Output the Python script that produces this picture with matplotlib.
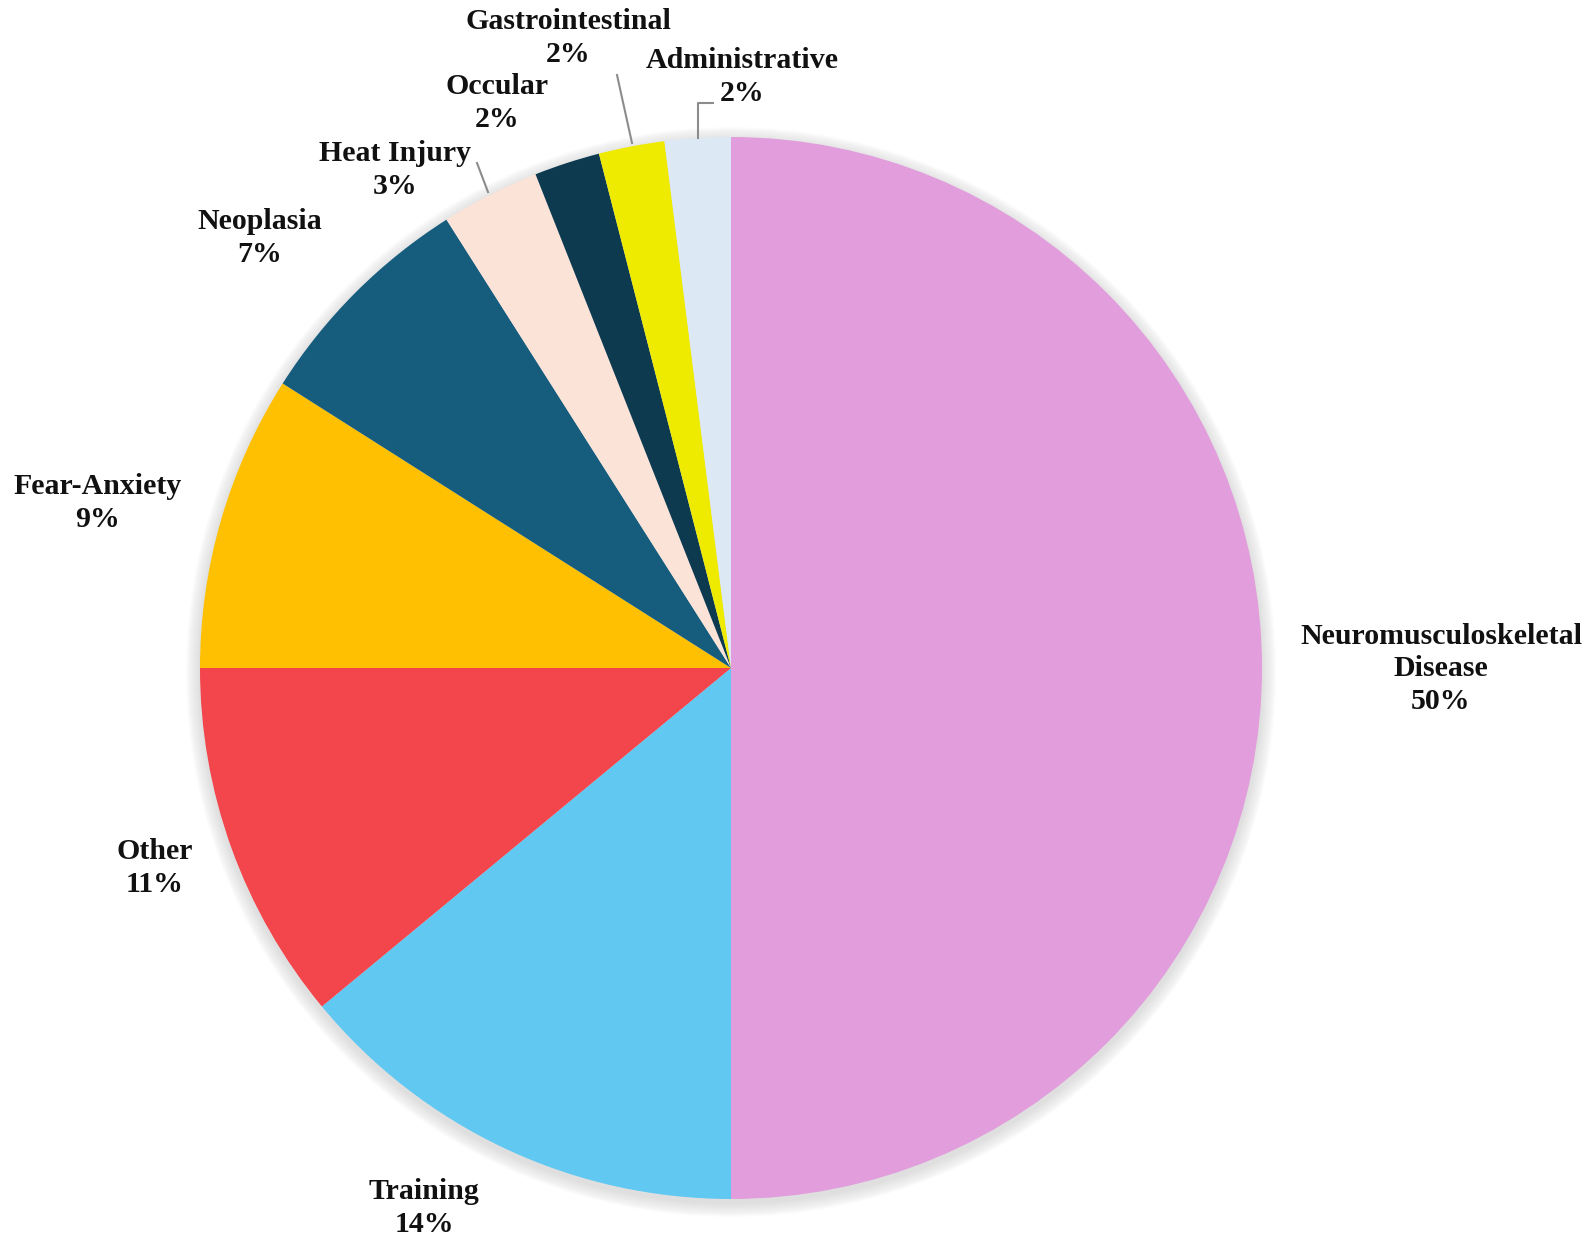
import matplotlib.pyplot as plt
from matplotlib.patches import Circle

# Datos
categorias = ['Neuromusculoskeletal\nDisease', 'Training', 'Other', 'Fear-Anxiety',
              'Neoplasia', 'Heat Injury', 'Occular', 'Gastrointestinal', 'Administrative']
porcentajes = [50, 14, 11, 9, 7, 3, 2, 2, 2]
colores = ['#E29DDD', '#61C8F2', '#F2454C', '#FEC000', '#165C7D',
           '#FBE3D8', '#0E3A50', '#EEEA00', '#DCE9F5']

# posiciones de las etiquetas (pixeles, origen arriba-izquierda)
pos_etiquetas = [(1441, 669), (424, 1208), (155, 868), (98, 503), (260, 238),
                 (395, 170), (497, 103), (568, 38), (742, 77)]

W, H = 1595, 1253
fig = plt.figure(figsize=(W / 100, H / 100), dpi=100)
ax = fig.add_axes([0, 0, 1, 1])
ax.set_xlim(0, W)
ax.set_ylim(0, H)
ax.set_aspect('equal')
ax.axis('off')

cx, cy, r = 731, H - 668, 531

# sombra suave alrededor de la tarta
for k in range(14, 0, -1):
    ax.add_patch(Circle((cx, cy - 4), r + k, color='#a0a0a0', alpha=0.022, lw=0, zorder=0))

ax.pie(porcentajes, colors=colores, startangle=90, counterclock=False,
       center=(cx, cy), radius=r, frame=True,
       wedgeprops=dict(linewidth=0), normalize=True)
ax.set_xlim(0, W)
ax.set_ylim(0, H)
ax.axis('off')

for nombre, p, (x, y) in zip(categorias, porcentajes, pos_etiquetas):
    ax.text(x, H - y, f'{nombre}\n{p}%', ha='center', va='center',
            fontsize=21.5, fontweight='bold', family='Liberation Serif',
            linespacing=1.27, color='#111111')

# lineas guia
guias = [[(617, 75), (632, 143)],
         [(477, 163), (488, 192)],
         [(713, 103), (698, 103), (698, 138)]]
for g in guias:
    ax.plot([p[0] for p in g], [H - p[1] for p in g], color='#8c8c8c', lw=1.5)

plt.savefig('out.png', dpi=100)
